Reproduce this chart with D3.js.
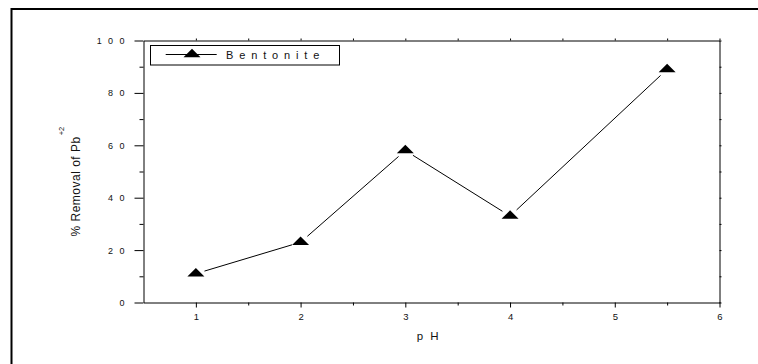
<!DOCTYPE html>
<html>
<head>
<meta charset="utf-8">
<script src="https://cdn.jsdelivr.net/npm/d3@7"></script>
<style>
  html, body { margin: 0; padding: 0; background: #fff; }
  svg { display: block; }
  text { font-family: "Liberation Sans", Arial, sans-serif; fill: #111; }
</style>
</head>
<body>
<svg id="chart" width="758" height="364"></svg>
<script>
// pH of the solution and % removal of Pb(II) by bentonite
const phValues = [1, 2, 3, 4, 5.5];
const removal = [11, 23, 58, 33, 89];
const seriesName = "B e n t o n i t e";
const xTicks = [1, 2, 3, 4, 5, 6];
const xMinorTicks = [1.5, 2.5, 3.5, 4.5, 5.5];
const yTicks = [0, 20, 40, 60, 80, 100];
const yMinorTicks = [10, 30, 50, 70, 90];
const xTitle = "p H";
const yTitle = "% Removal of Pb";
const yTitleSup = "+2";

const svg = d3.select("#chart");

// outer frame (only its top and left edges fall inside the page)
svg.append("rect")
  .attr("x", 11.5).attr("y", 9).attr("width", 900).attr("height", 500)
  .attr("fill", "none").attr("stroke", "#000").attr("stroke-width", 2);

const x = d3.scaleLinear().domain([0.5, 6]).range([143.5, 719.5]);
const y = d3.scaleLinear().domain([0, 100]).range([302.5, 40.5]);

const spaced = d => String(d).split("").join(" ");

// bottom axis: labelled majors + minors
const gBottom = svg.append("g").attr("transform", `translate(0,${y(0)})`);
gBottom.call(d3.axisBottom(x).tickValues(xTicks).tickSize(5).tickSizeOuter(0).tickFormat(d3.format("d")));
gBottom.append("g").call(d3.axisBottom(x).tickValues(xMinorTicks).tickSize(3).tickSizeOuter(0).tickFormat(""))
  .select(".domain").remove();
gBottom.selectAll(".tick text")
  .attr("y", 17.5).attr("dy", 0)
  .style("font-size", "9.5px").attr("fill", "#111");

// left axis
const gLeft = svg.append("g").attr("transform", `translate(${x(0.5)},0)`);
gLeft.call(d3.axisLeft(y).tickValues(yTicks).tickSize(9).tickSizeOuter(0).tickFormat(spaced));
gLeft.append("g").call(d3.axisLeft(y).tickValues(yMinorTicks).tickSize(4).tickSizeOuter(0).tickFormat(""))
  .select(".domain").remove();
gLeft.selectAll(".tick text")
  .attr("x", -17.2).attr("dy", "0.34em")
  .style("font-size", "9px").style("letter-spacing", "1.9px").attr("fill", "#111");

// top and right frame axes with small outward ticks
const gTop = svg.append("g").attr("transform", `translate(0,${y(100)})`);
gTop.call(d3.axisTop(x).tickValues(xTicks.concat(xMinorTicks)).tickSize(2).tickSizeOuter(0).tickFormat(""));
const gRight = svg.append("g").attr("transform", `translate(${x(6)},0)`);
gRight.call(d3.axisRight(y).tickValues(yTicks.concat(yMinorTicks)).tickSize(2).tickSizeOuter(0).tickFormat(""));

svg.selectAll(".domain, .tick line").attr("stroke", "#000").attr("stroke-width", 1);

// flat up-triangle symbol, centred on its centroid
const triW = 17, triH = 8.5;
const triPath = `M0,${-2 * triH / 3}L${triW / 2},${triH / 3}L${-triW / 2},${triH / 3}Z`;

const pts = phValues.map((p, i) => [x(p), y(removal[i])]);

// connecting segments, stopped short of each marker
const gap = 9;
const segs = d3.pairs(pts).map(([a, b]) => {
  const dx = b[0] - a[0], dy = b[1] - a[1];
  const len = Math.hypot(dx, dy);
  const ux = dx / len, uy = dy / len;
  return [a[0] + ux * gap, a[1] + uy * gap, b[0] - ux * gap, b[1] - uy * gap];
});
svg.append("g").selectAll("line").data(segs).join("line")
  .attr("x1", d => d[0]).attr("y1", d => d[1])
  .attr("x2", d => d[2]).attr("y2", d => d[3])
  .attr("stroke", "#000").attr("stroke-width", 1);

svg.append("g").selectAll("path").data(pts).join("path")
  .attr("d", triPath)
  .attr("transform", d => `translate(${d[0]},${d[1]})`)
  .attr("fill", "#000");

// legend
const leg = svg.append("g");
leg.append("rect")
  .attr("x", 150.5).attr("y", 45.5).attr("width", 189).attr("height", 19.5)
  .attr("fill", "#fff").attr("stroke", "#000").attr("stroke-width", 1);
leg.append("line")
  .attr("x1", 165.7).attr("x2", 216.7).attr("y1", 54.5).attr("y2", 54.5)
  .attr("stroke", "#000").attr("stroke-width", 1);
leg.append("path").attr("d", triPath).attr("transform", "translate(192,54.5)").attr("fill", "#000");
leg.append("text")
  .attr("x", 226).attr("y", 59.3)
  .style("font-size", "11px").style("letter-spacing", "1.4px")
  .text(seriesName);

// axis titles
svg.append("text")
  .attr("x", 416.7).attr("y", 340)
  .style("font-size", "11.5px").style("letter-spacing", "2px")
  .text(xTitle);

const yt = svg.append("text")
  .attr("transform", "translate(80,236.5) rotate(-90)")
  .style("font-size", "12px").style("letter-spacing", "0.5px");
yt.append("tspan").text(yTitle);
yt.append("tspan").attr("dx", 1).attr("dy", -16).style("font-size", "7.5px").style("letter-spacing", "0px").text(yTitleSup);
</script>
</body>
</html>
